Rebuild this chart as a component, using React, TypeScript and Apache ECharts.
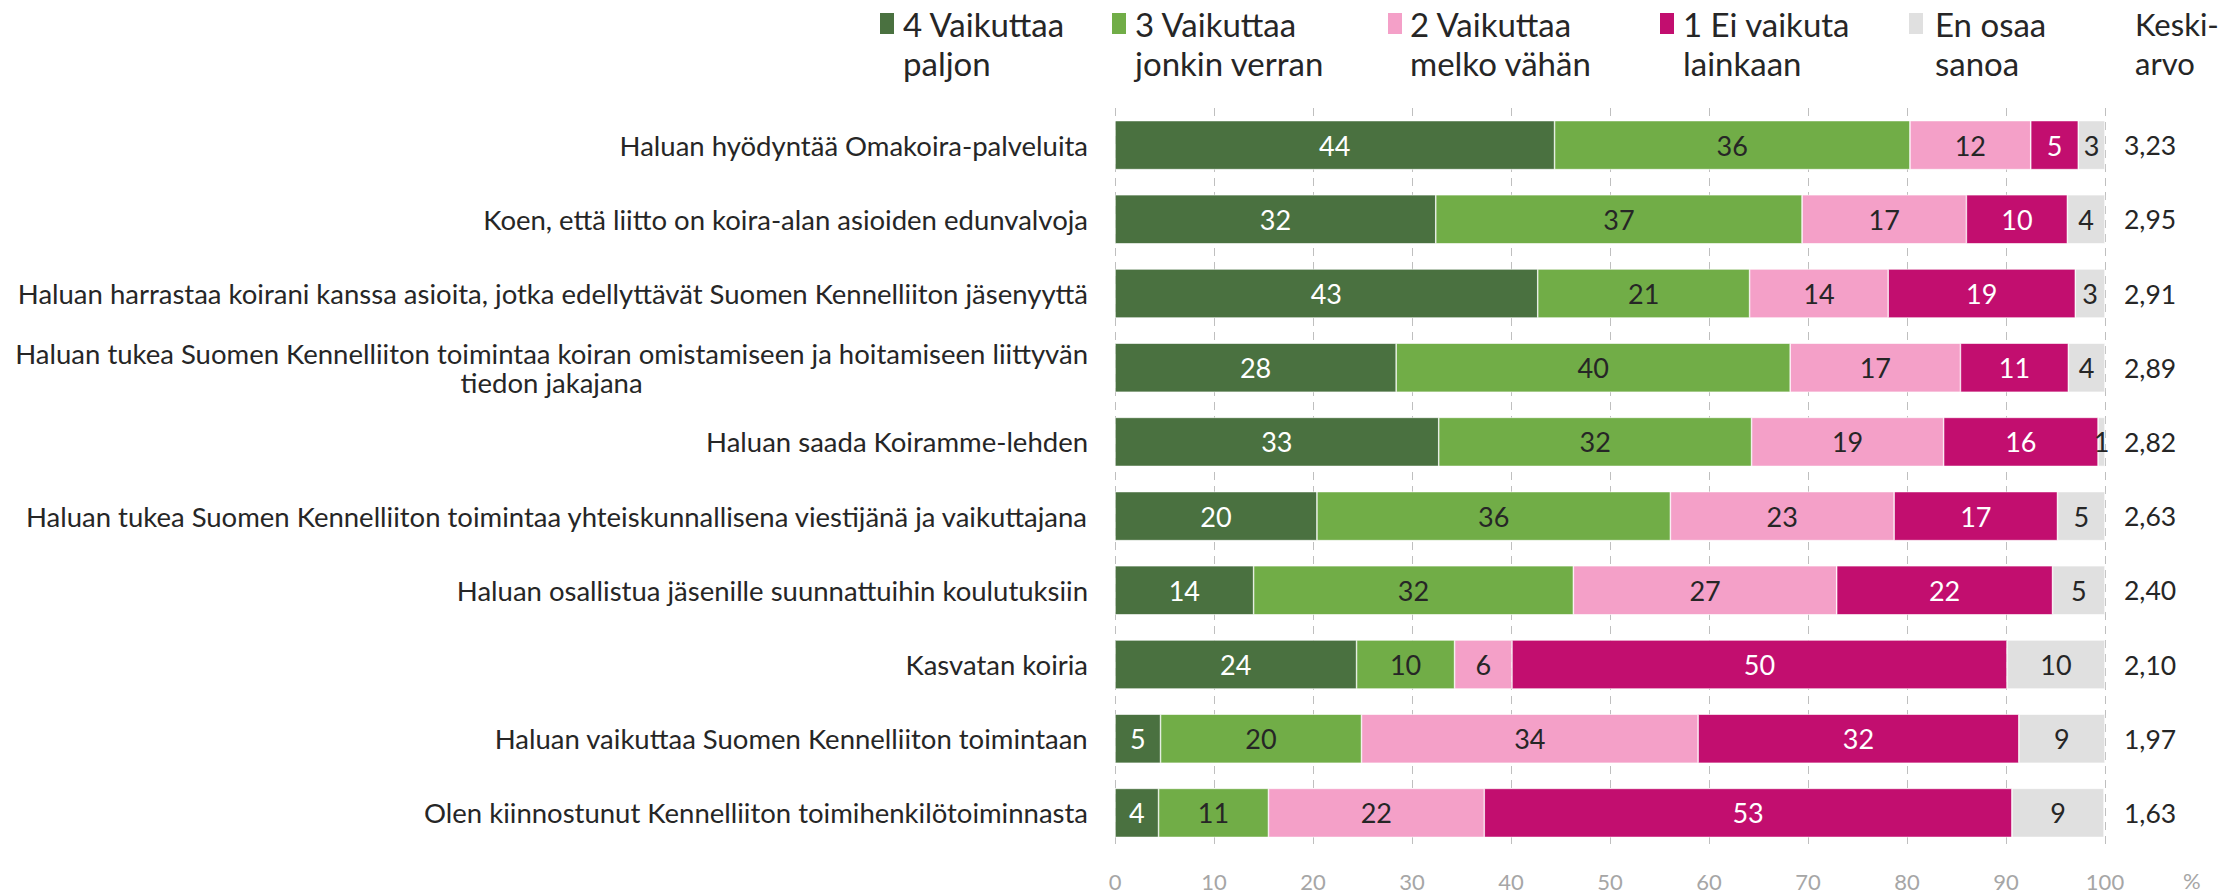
import React, { useEffect, useRef } from "react";
import * as echarts from "echarts";

const categories = [
  "Haluan hyödyntää Omakoira-palveluita",
  "Koen, että liitto on koira-alan asioiden edunvalvoja",
  "Haluan harrastaa koirani kanssa asioita, jotka edellyttävät Suomen Kennelliiton jäsenyyttä",
  "Haluan tukea Suomen Kennelliiton toimintaa koiran omistamiseen ja hoitamiseen liittyvän\ntiedon jakajana",
  "Haluan saada Koiramme-lehden",
  "Haluan tukea Suomen Kennelliiton toimintaa yhteiskunnallisena viestijänä ja vaikuttajana",
  "Haluan osallistua jäsenille suunnattuihin koulutuksiin",
  "Kasvatan koiria",
  "Haluan vaikuttaa Suomen Kennelliiton toimintaan",
  "Olen kiinnostunut Kennelliiton toimihenkilötoiminnasta",
];

const seriesNames = [
  "4 Vaikuttaa\npaljon",
  "3 Vaikuttaa\njonkin verran",
  "2 Vaikuttaa\nmelko vähän",
  "1 Ei vaikuta\nlainkaan",
  "En osaa\nsanoa",
];

const vaikuttaaPaljon = [44.4, 32.4, 42.7, 28.4, 32.7, 20.4, 14.0, 24.4, 4.6, 4.4];
const vaikuttaaJonkin = [35.9, 37.0, 21.4, 39.8, 31.6, 35.7, 32.3, 9.9, 20.3, 11.1];
const melkoVahan = [12.2, 16.6, 14.0, 17.2, 19.4, 22.6, 26.6, 5.8, 34.0, 21.8];
const eiLainkaan = [4.8, 10.2, 18.9, 10.9, 15.6, 16.5, 21.8, 50.0, 32.4, 53.3];
const enOsaa = [2.7, 3.8, 3.0, 3.7, 0.7, 4.8, 5.3, 9.9, 8.7, 9.3];

const keskiarvo = ["3,23", "2,95", "2,91", "2,89", "2,82", "2,63", "2,40", "2,10", "1,97", "1,63"];

const xTicks = [0, 10, 20, 30, 40, 50, 60, 70, 80, 90, 100];

const colors = ["#4A7140", "#71AD47", "#F4A0C8", "#C20E6F", "#E0E0E0"];
const labelColors = ["#FFFFFF", "#262626", "#262626", "#FFFFFF", "#262626"];

const FONT = "Lato, 'Noto Sans', sans-serif";

export default function App() {
  const ref = useRef<HTMLDivElement>(null);
  useEffect(() => {
    if (!ref.current) return;
    const chart = echarts.init(ref.current, undefined, { renderer: "svg" });
    const values = [vaikuttaaPaljon, vaikuttaaJonkin, melkoVahan, eiLainkaan, enOsaa];

    const legendIconX = [880, 1112, 1388, 1660, 1909];
    const legendTextX = [903, 1135, 1410, 1683, 1935];
    const graphic: any[] = [];
    seriesNames.forEach((n, i) => {
      graphic.push({
        type: "rect",
        shape: { x: legendIconX[i], y: 13, width: 14, height: 21 },
        style: { fill: colors[i] },
      });
      graphic.push({
        type: "text",
        x: legendTextX[i],
        y: 4,
        style: {
          text: n,
          fill: "#262626",
          font: `33px ${FONT}`,
          lineHeight: 39,
          verticalAlign: "top",
        },
      });
    });
    graphic.push({
      type: "text",
      x: 2135,
      y: 4,
      style: { text: "Keski-\narvo", fill: "#262626", font: `31px ${FONT}`, lineHeight: 39, verticalAlign: "top" },
    });
    graphic.push({
      type: "text",
      x: 2183,
      y: 880,
      style: { text: "%", fill: "#A6A6A6", font: `22px ${FONT}`, verticalAlign: "middle" },
    });

    chart.setOption({
      animation: false,
      textStyle: { fontFamily: FONT },
      graphic,
      grid: { left: 1115, right: 131, top: 108, bottom: 46, containLabel: false },
      xAxis: {
        type: "value",
        min: 0,
        max: 100,
        interval: 10,
        axisLine: { show: false },
        axisTick: { show: false },
        splitLine: { show: true, lineStyle: { type: [8, 6], color: "#BFBFBF", width: 1 } },
        axisLabel: { color: "#A6A6A6", fontSize: 22, margin: 20, formatter: (v: number) => (xTicks.includes(v) ? String(v) : "") },
      },
      yAxis: [
        {
          type: "category",
          data: categories,
          inverse: true,
          axisLine: { show: false },
          axisTick: { show: false },
          axisLabel: {
            margin: 27,
            color: "#262626",
            fontSize: 27.5,
            lineHeight: 29,
            formatter: (v: string) => v.split("\n").map((s) => `{c|${s}}`).join("\n"),
            rich: { c: { align: "center", fontSize: 27.5, lineHeight: 29, color: "#262626" } },
          },
        },
        {
          type: "category",
          data: keskiarvo,
          inverse: true,
          position: "right",
          axisLine: { show: false },
          axisTick: { show: false },
          axisLabel: { margin: 19, color: "#262626", fontSize: 26.5, align: "left" },
        },
      ],
      series: values.map((d, i) => ({
        name: seriesNames[i],
        type: "bar",
        stack: "total",
        data: d,
        barWidth: 49,
        itemStyle: { color: colors[i], borderColor: "#FFFFFF", borderWidth: 0.6 },
        label: {
          show: true,
          position: "inside",
          color: labelColors[i],
          fontSize: 27,
          formatter: (p: any) => String(Math.round(p.value)),
        },
      })),
    });
    return () => chart.dispose();
  }, []);
  return <div ref={ref} style={{ position: "fixed", left: 0, top: 0, width: 2236, height: 896, background: "#fff" }} />;
}
